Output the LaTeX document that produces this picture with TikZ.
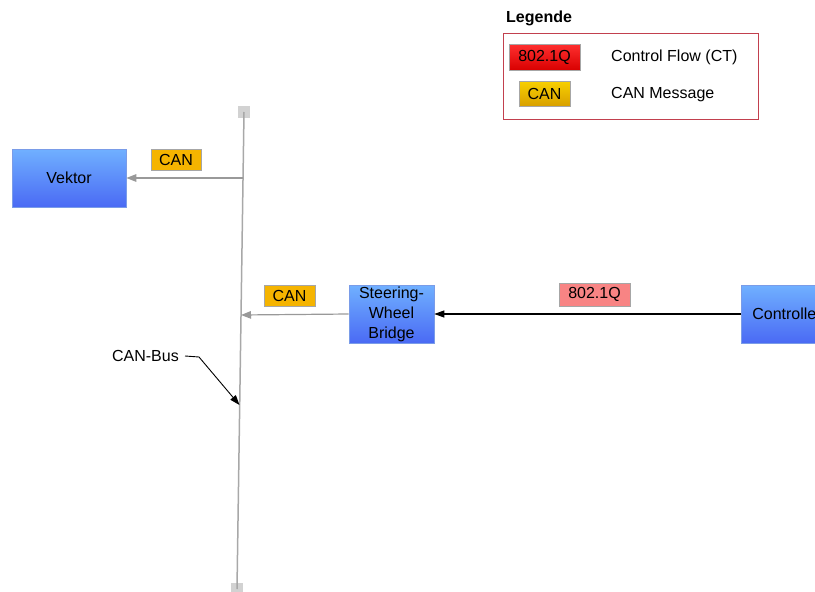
\documentclass[tikz,border=0pt]{standalone}
\usepackage{fontspec}
\setmainfont{Liberation Sans}
\usetikzlibrary{arrows.meta}
\definecolor{busgray}{HTML}{A8A8A8}
\definecolor{endgray}{HTML}{D2D2D2}
\definecolor{boxtop}{HTML}{70B0FF}
\definecolor{boxbot}{HTML}{4A6AF4}
\definecolor{boxline}{HTML}{7A9CE8}
\definecolor{canfill}{HTML}{F5B400}
\definecolor{qfill}{HTML}{F88484}
\definecolor{legline}{HTML}{C2404E}
\definecolor{redtop}{HTML}{FF3030}
\definecolor{redbot}{HTML}{D80000}
\definecolor{goldtop}{HTML}{F8D000}
\definecolor{goldbot}{HTML}{D8A000}
\tikzset{
  every node/.style={font=\fontsize{16}{19}\selectfont, inner sep=0pt},
  device/.style={draw=boxline, line width=0.6pt, top color=boxtop, bottom color=boxbot,
    align=center, text=black},
  tag/.style={draw=gray!70, line width=0.6pt, minimum height=21pt},
  bus/.style={draw=busgray, line width=1.5pt},
  busend/.style={fill=endgray, minimum width=12pt, minimum height=12pt},
  canlink/.style={draw=gray!80, line width=1.2pt, -{Triangle[length=10pt,width=7.5pt]}},
  ctlink/.style={draw=black, line width=1.1pt, -{Triangle[length=10pt,width=7pt]}},
}
\begin{document}
\begin{tikzpicture}[x=1pt, y=-1pt]
\useasboundingbox (0,0) rectangle (815,592);

% CAN bus with its two terminations
\node[busend] (bt) at (244,112) {};
\node[busend] (bb) at (237,589) {};
\draw[bus] (bt.center) -- (bb.center);
\coordinate (tapV) at (243,178);
\coordinate (tapS) at (241,315);
\coordinate (tapL) at (239.5,405);

% devices
\node[device, minimum width=114pt, minimum height=58pt] (vek) at (69,178) {Vektor};
\node[device, minimum width=85pt, minimum height=58pt] (swb) at (391.5,314)
  {Steering-\\[1pt]Wheel\\[1pt]Bridge};
\node[device, minimum width=100pt, minimum height=58pt, anchor=west, text width=90pt, align=left]
  (ctl) at (741,314) {\hspace*{6pt}Controller};

% message flows
\draw[canlink] (tapV) -- (vek.east);
\draw[canlink] (swb.west) -- (tapS);
\draw[ctlink] (ctl.west) -- (swb.east);

% message tags
\node[tag, fill=canfill, minimum width=50pt] (tagV) at (176,159.5) {CAN};
\node[tag, fill=canfill, minimum width=51pt] (tagS) at (289.5,295.5) {CAN};
\node[tag, fill=qfill, minimum width=71pt, minimum height=23pt] (tagQ) at (594.5,294.5) {802.1Q};

% bus label
\node[anchor=east] (busl) at (179,356) {CAN-Bus};
\coordinate (bend) at (199,357);
\draw[black, line width=0.9pt, -{Triangle[length=10pt,width=7pt]}]
  ([xshift=6pt]busl.east) -- (bend) -- (tapL);

% legend
\node[anchor=west, font=\fontsize{16}{18}\selectfont\bfseries] (legt) at (506,18) {Legende};
\node[draw=legline, line width=1pt, minimum width=255pt, minimum height=86pt] (legbox) at (630.5,76) {};
\node[draw=gray!70, line width=0.6pt, top color=redtop, bottom color=redbot,
  minimum width=71pt, minimum height=26pt] (legQ) at (544.5,57) {802.1Q};
\node[draw=gray!70, line width=0.6pt, top color=goldtop, bottom color=goldbot,
  minimum width=51pt, minimum height=25pt] (legC) at (544.5,93.5) {CAN};
\node[anchor=west] (legQt) at (611,57.5) {Control Flow (CT)};
\node[anchor=west] (legCt) at (611,94.5) {CAN Message};
\end{tikzpicture}
\end{document}
